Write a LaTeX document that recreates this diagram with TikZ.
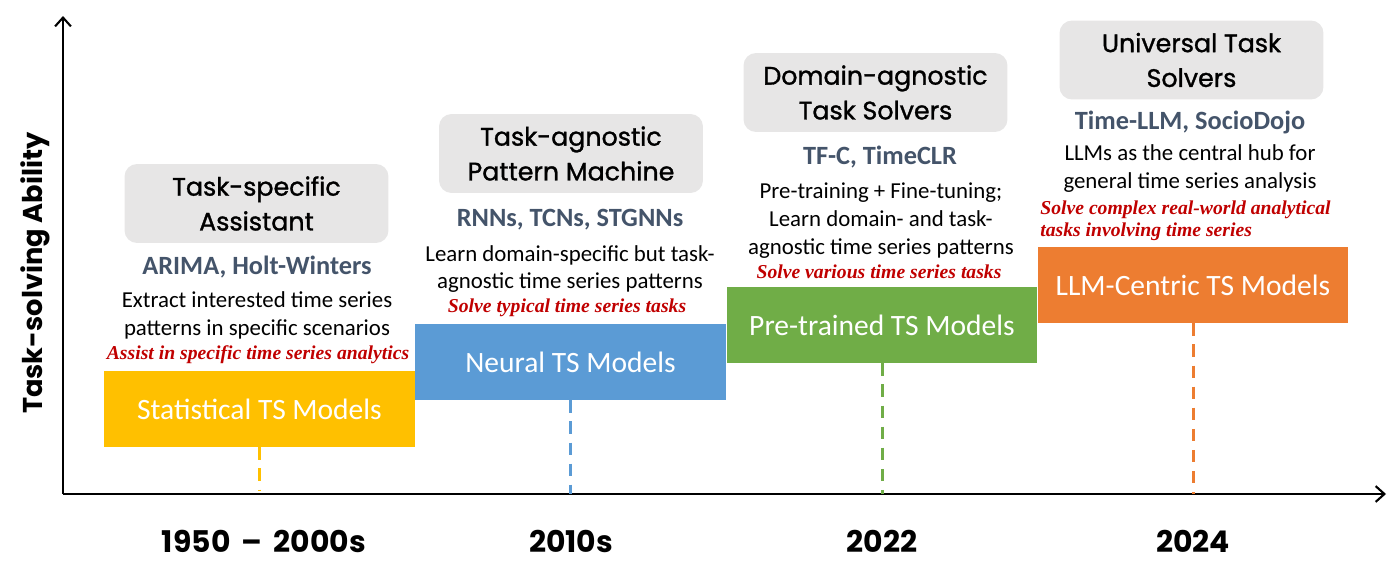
\documentclass[tikz,border=0pt]{standalone}
\usepackage{fontspec}
\setmainfont{Carlito}
\newfontfamily\hdfont{Poppins}
\newfontfamily\hdmfont{Poppins}[FakeBold=1.2]
\newfontfamily\rdfont{Liberation Serif}
\usetikzlibrary{arrows.meta}
\definecolor{cyellow}{HTML}{FFC000}
\definecolor{cblue}{HTML}{5B9BD5}
\definecolor{cgreen}{HTML}{70AD47}
\definecolor{corange}{HTML}{ED7D31}
\definecolor{cgray}{HTML}{E7E6E6}
\definecolor{cslate}{HTML}{44546A}
\definecolor{cred}{HTML}{C00000}
\tikzset{
  model/.style={draw=none, text=white, minimum width=6.22cm, minimum height=1.52cm, inner sep=0pt,
    font=\fontsize{16.8}{19}\selectfont},
  header/.style={fill=cgray, rounded corners=0.25cm, minimum width=5.28cm, minimum height=1.58cm,
    inner sep=0pt, align=center, font=\hdmfont\fontsize{14.4}{19.8}\selectfont},
  examples/.style={inner sep=0pt, text=cslate, font=\bfseries\fontsize{15}{17}\selectfont},
  desc/.style={inner sep=0pt, align=center, font=\fontsize{13}{15.9}\selectfont},
  goal/.style={inner sep=0pt, text=cred, font=\rdfont\bfseries\itshape\fontsize{11.2}{12.6}\selectfont},
  year/.style={inner sep=0pt, font=\hdfont\bfseries\fontsize{17}{20}\selectfont},
  axis/.style={line width=1.2pt, -{Straight Barb[length=5pt,width=9pt,line width=1.2pt]}},
  tick/.style={line width=1.7pt, dash pattern=on 7pt off 5pt}
}
\begin{document}
\begin{tikzpicture}[x=0.02cm, y=-0.02cm]
\useasboundingbox (0,0) rectangle (1400,572);

% axes
\coordinate (origin) at (63,494);
\coordinate (xend) at (1386,494);
\coordinate (yend) at (63,16);
\draw[axis] (origin) -- (xend);
\draw[axis] (origin) -- (yend);
\node[rotate=90, inner sep=0pt, font=\hdfont\bfseries\fontsize{15.5}{18}\selectfont] (ylab) at (35,273) {Task-solving Ability};

% model boxes
\node[model, fill=cyellow, minimum height=1.52cm] (stat) at (259.5,409) {Statistical TS Models};
\node[model, fill=cblue] (neural) at (570.5,362) {Neural TS Models};
\node[model, fill=cgreen] (pre) at (882,325) {Pre-trained TS Models};
\node[model, fill=corange] (llm) at (1193,285) {LLM-Centric TS Models};

% axis ticks
\coordinate (t1) at (259.5,490);
\coordinate (t2) at (570.5,494);
\coordinate (t3) at (882,494);
\coordinate (t4) at (1193,494);
\draw[tick, cyellow] (stat.south) -- (t1);
\draw[tick, cblue] (neural.south) -- (t2);
\draw[tick, cgreen] (pre.south) -- (t3);
\draw[tick, corange] (llm.south) -- (t4);

% years
\node[year] (y1) at (264,541) {1950 \,–\, 2000s};
\node[year] (y2) at (571,541) {2010s};
\node[year] (y3) at (882,541) {2022};
\node[year] (y4) at (1193,541) {2024};

% column 1
\node[header] (h1) at (256.5,203.5) {Task-specific\\Assistant};
\node[examples] (e1) at (257,267) {ARIMA, Holt-Winters};
\node[desc] (d1) at (257,315.5) {Extract interested time series\\patterns in specific scenarios};
\node[goal] (g1) at (258,355) {Assist in specific time series analytics};

% column 2
\node[header] (h2) at (571,153.5) {Task-agnostic\\Pattern Machine};
\node[examples] (e2) at (570,220) {RNNs, TCNs, STGNNs};
\node[desc] (d2) at (570,269) {Learn domain-specific but task-\\agnostic time series patterns};
\node[goal] (g2) at (567,308) {Solve typical time series tasks};

% column 3
\node[header] (h3) at (875.5,92.5) {Domain-agnostic\\Task Solvers};
\node[examples] (e3) at (880,157) {TF-C, TimeCLR};
\node[desc] (d3) at (881,220.5) {Pre-training + Fine-tuning;\\Learn domain- and task-\\agnostic time series patterns};
\node[goal] (g3) at (879,272) {Solve various time series tasks};

% column 4
\node[header] (h4) at (1191.5,60) {Universal Task\\Solvers};
\node[examples] (e4) at (1190,122) {Time-LLM, SocioDojo};
\node[desc] (d4) at (1190,168.5) {LLMs as the central hub for\\general time series analysis};
\node[goal, align=left, anchor=west] (g4) at (1040,220.5) {Solve complex real-world analytical\\tasks involving time series};
\end{tikzpicture}
\end{document}
